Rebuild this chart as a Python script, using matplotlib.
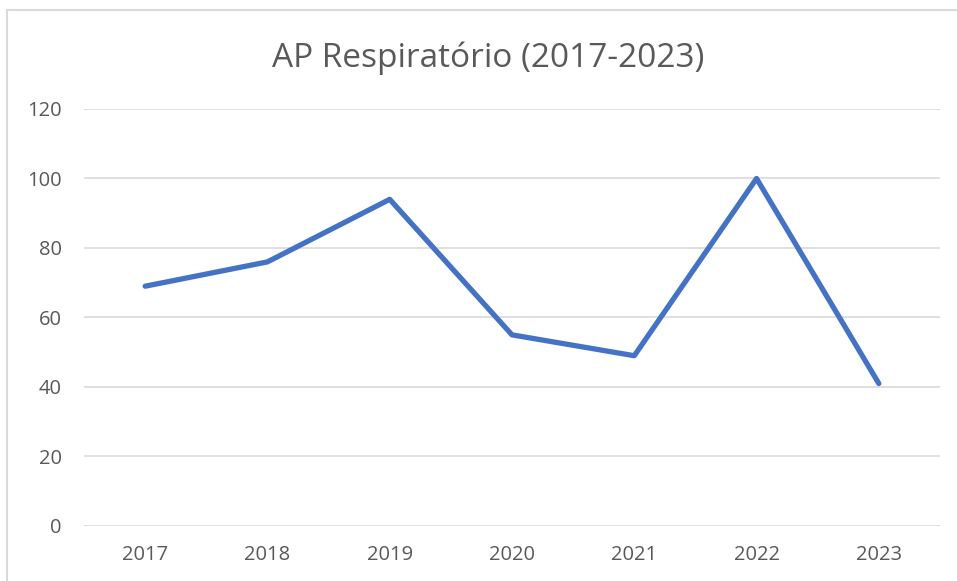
import matplotlib
matplotlib.use("Agg")
import matplotlib.pyplot as plt
from matplotlib.patches import Rectangle

# dados
anos = ["2017", "2018", "2019", "2020", "2021", "2022", "2023"]
casos = [69, 76, 94, 55, 49, 100, 41]
yticks = [0, 20, 40, 60, 80, 100, 120]

plt.rcParams['font.family'] = ['Open Sans', 'DejaVu Sans']

fig = plt.figure(figsize=(9.57, 5.81), dpi=100)
ax = fig.add_axes([0.0878, 0.0947, 0.8944, 0.7177])

# moldura do gráfico (cortada à direita e em baixo)
fig.patches.append(Rectangle((7 / 957, -0.1), 1.2, 1 - 10 / 581 + 0.1,
                             transform=fig.transFigure, fill=False,
                             edgecolor="#D9D9D9", linewidth=1.5))

ax.plot(range(len(anos)), casos, color="#4472C4", linewidth=3.8,
        solid_capstyle="round", solid_joinstyle="round", zorder=3)

ax.set_xlim(-0.5, len(anos) - 0.5)
ax.set_ylim(0, 120)
ax.set_yticks(yticks)
ax.set_xticks(range(len(anos)))
ax.set_xticklabels(anos)
ax.grid(axis="y", color="#D9D9D9", linewidth=1.2)
ax.set_axisbelow(True)
for s in ax.spines.values():
    s.set_visible(False)
ax.tick_params(length=0, labelsize=14.5, colors="#595959")
ax.tick_params(axis="y", pad=16)
ax.tick_params(axis="x", pad=14)

fig.text(0.51, 0.900, "AP Respiratório (2017-2023)", ha="center", va="center",
         fontsize=24, color="#595959")

fig.savefig("out.png", dpi=100)
